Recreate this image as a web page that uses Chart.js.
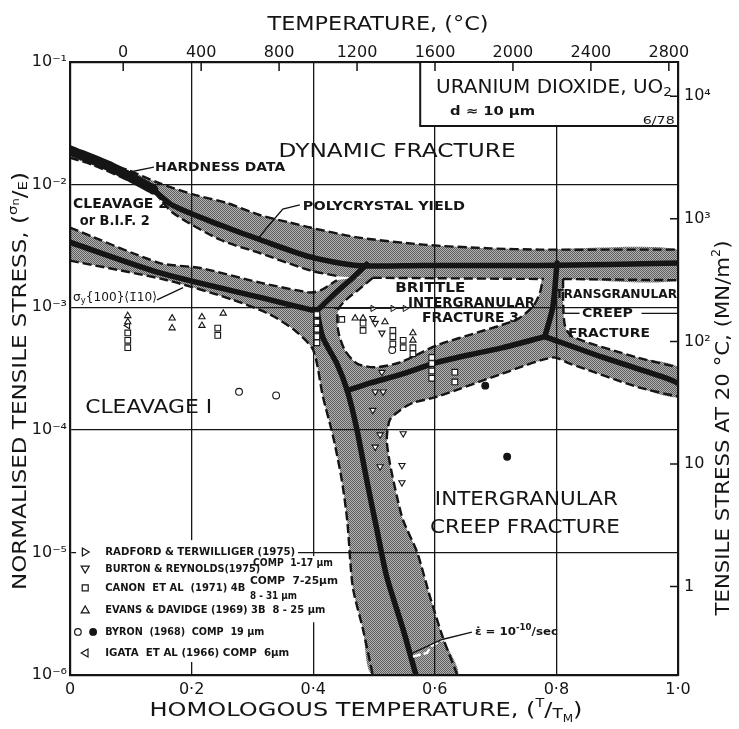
<!DOCTYPE html>
<html lang="en">
<head>
<meta charset="UTF-8">
<title>Uranium dioxide fracture map</title>
<style>
  html, body { margin: 0; padding: 0; background: #fff; }
</style>
</head>
<body>
<canvas id="map" width="739" height="729"></canvas>

<script src="https://cdn.jsdelivr.net/npm/chart.js@4.4.1/dist/chart.umd.min.js"></script>
<script>
// all points are [T/TM, log10(sigma_n/E)]
const topBandUpper = [[0,-1.69],[0.038,-1.78],[0.094,-1.88],[0.148,-1.99],[0.202,-2.08],[0.258,-2.15],[0.313,-2.25],[0.362,-2.31],[0.395,-2.35],[0.472,-2.43],[0.581,-2.49],[0.691,-2.52],[0.773,-2.53],[1.0,-2.53]];
const topBandLower = [[0,-1.78],[0.038,-1.84],[0.094,-1.96],[0.137,-2.06],[0.169,-2.23],[0.247,-2.45],[0.313,-2.56],[0.395,-2.70],[0.444,-2.75],[0.498,-2.76],[0.773,-2.77],[0.811,-2.77],[1.0,-2.78]];
const hardnessLine = [[0,-1.72],[0.069,-1.86],[0.137,-2.04]];
const yieldLine = [[0.137,-2.04],[0.169,-2.17],[0.247,-2.33],[0.313,-2.45],[0.395,-2.59],[0.472,-2.66],[0.581,-2.66],[0.773,-2.66],[1.0,-2.64]];

const cleavageUpper = [[0,-2.35],[0.148,-2.64],[0.214,-2.68],[0.313,-2.80],[0.395,-2.88],[0.413,-2.86],[0.439,-2.78]];
const cleavageLine = [[0,-2.47],[0.148,-2.72],[0.313,-2.92],[0.395,-3.02],[0.406,-3.03]];
const cleavage1Edge = [[0,-2.62],[0.160,-2.78],[0.268,-2.94],[0.329,-3.06],[0.370,-3.19],[0.400,-3.35],[0.416,-3.73],[0.433,-4.06],[0.447,-4.41],[0.456,-4.74],[0.465,-5.28],[0.482,-5.63],[0.498,-6.0]];
const connectorLine = [[0.406,-3.03],[0.4375,-2.88],[0.465,-2.76],[0.488,-2.65]];
const creepLine = [[0.406,-3.03],[0.416,-3.25],[0.439,-3.46],[0.456,-3.68],[0.472,-4.00],[0.488,-4.41],[0.505,-4.82],[0.521,-5.20],[0.548,-5.63],[0.569,-6.0]];

const brittleEdge = [[0.498,-2.76],[0.474,-2.86],[0.454,-2.94],[0.441,-3.02],[0.441,-3.19],[0.452,-3.35],[0.472,-3.46],[0.502,-3.49],[0.543,-3.45],[0.604,-3.31],[0.674,-3.20],[0.735,-3.10],[0.762,-2.99],[0.773,-2.88],[0.778,-2.76]];
const brittleLine = [[0.456,-3.68],[0.493,-3.62],[0.543,-3.55],[0.604,-3.45],[0.674,-3.37],[0.712,-3.33],[0.781,-3.24]];
const transLineUp = [[0.781,-3.24],[0.794,-3.00],[0.801,-2.64]];
const transLineRight = [[0.781,-3.24],[0.877,-3.41],[0.987,-3.59],[1.0,-3.62]];
const transEdge = [[0.811,-2.77],[0.811,-2.94],[0.814,-3.15],[0.826,-3.24],[0.933,-3.41],[1.0,-3.49]];
const igCreepEdge = [[0.637,-6.0],[0.613,-5.69],[0.592,-5.36],[0.571,-5.0],[0.548,-4.74],[0.538,-4.55],[0.526,-4.27],[0.521,-4.08],[0.526,-3.92],[0.543,-3.84],[0.564,-3.78],[0.604,-3.73],[0.712,-3.54],[0.794,-3.41],[0.822,-3.46],[0.933,-3.65],[1.0,-3.73]];
const strainRateContour = [[0.564,-5.85],[0.587,-5.82],[0.595,-5.76],[0.614,-5.71]];

// experimental points
const radfordPts = [[0.434,-3.01],[0.498,-3.01],[0.531,-3.01],[0.551,-3.01]];
const burtonPts = [[0.498,-3.09],[0.502,-3.13],[0.513,-3.21],[0.513,-3.53],[0.502,-3.69],[0.515,-3.69],[0.498,-3.84],[0.510,-4.04],[0.502,-4.14],[0.510,-4.30],[0.548,-4.03],[0.546,-4.29],[0.546,-4.43]];
const canonPts = [[0.095,-3.21],[0.095,-3.27],[0.095,-3.33],[0.243,-3.17],[0.243,-3.23],[0.406,-3.06],[0.406,-3.12],[0.406,-3.18],[0.406,-3.24],[0.406,-3.29],[0.447,-3.10],[0.482,-3.13],[0.482,-3.19],[0.531,-3.19],[0.531,-3.24],[0.531,-3.30],[0.548,-3.27],[0.548,-3.33],[0.564,-3.33],[0.564,-3.38],[0.595,-3.41],[0.595,-3.46],[0.595,-3.52],[0.595,-3.58],[0.633,-3.53],[0.633,-3.61]];
const evansPts = [[0.095,-3.07],[0.095,-3.12],[0.168,-3.09],[0.168,-3.17],[0.217,-3.08],[0.217,-3.15],[0.252,-3.05],[0.469,-3.09],[0.482,-3.09],[0.518,-3.12],[0.564,-3.21],[0.564,-3.27]];
const byronOpen = [[0.278,-3.69],[0.339,-3.72],[0.530,-3.35]];
const byronSolid = [[0.683,-3.64],[0.719,-4.22]];
const igataPts = [[0.095,-3.15]];

// axes
const homolTicks = [0, 0.2, 0.4, 0.6, 0.8, 1.0];
const stressTicks = [1e-6, 1e-5, 1e-4, 1e-3, 1e-2, 1e-1];
const tempTicks = [0, 400, 800, 1200, 1600, 2000, 2400, 2800];
const mnTicks = [1, 10, 100, 1000, 10000];
const meltK = 3120;      // UO2 melting point
const modulus = 1.9e5;   // E at 20 C, MN/m2

const ink = '#151515';
const FONT = '"DejaVu Sans", "Liberation Sans", sans-serif';
const SUP = {'0':'⁰','1':'¹','2':'²','3':'³','4':'⁴','5':'⁵','6':'⁶','7':'⁷','8':'⁸','9':'⁹','-':'⁻'};
const sup = s => String(s).split('').map(c => SUP[c] || c).join('');
const pts = arr => arr.map(([x, e]) => ({ x: x, y: Math.pow(10, e) }));

// stipple like the screen tone
const pc = document.createElement('canvas');
pc.width = 2; pc.height = 2;
const pg = pc.getContext('2d');
pg.fillStyle = '#b2b2b2'; pg.fillRect(0, 0, 2, 2);
pg.fillStyle = '#5e5e5e'; pg.fillRect(0, 0, 1, 1); pg.fillRect(1, 1, 1, 1);
const stipple = pg.createPattern(pc, 'repeat');

function band(arr) {
    return { type: 'line', data: pts(arr), fill: 'shape', backgroundColor: stipple, borderWidth: 0,
             pointRadius: 0, tension: 0.25, order: 10 };
}
function dashed(arr) {
    return { type: 'line', data: pts(arr), fill: false, borderColor: ink, borderWidth: 2.4,
             borderDash: [9, 4], pointRadius: 0, tension: 0.25, order: 5 };
}
function thick(arr, w) {
    return { type: 'line', data: pts(arr), fill: false, borderColor: ink, borderWidth: w,
             borderCapStyle: 'round', borderJoinStyle: 'round', pointRadius: 0, tension: 0.25, order: 3 };
}
function marks(arr, style, rot, r, bg) {
    return { type: 'scatter', data: pts(arr), pointStyle: style, rotation: rot, pointRadius: r,
             backgroundColor: bg || '#fff', borderColor: ink, borderWidth: 1.1, order: 1 };
}

const lowPoly = cleavageUpper.concat(brittleEdge, transEdge, igCreepEdge.slice().reverse(), cleavage1Edge.slice().reverse());
const topPoly = topBandUpper.concat(topBandLower.slice().reverse());

const datasets = [
    band(topPoly),
    band(lowPoly),
    dashed(topBandUpper),
    dashed(topBandLower.filter(p => p[0] <= 0.444)),
    dashed(topBandLower.filter(p => p[0] >= 0.498 && p[0] <= 0.78)),
    dashed(topBandLower.filter(p => p[0] >= 0.811)),
    dashed(cleavageUpper),
    dashed(cleavage1Edge),
    dashed(brittleEdge),
    dashed(transEdge),
    dashed(igCreepEdge),
    thick(hardnessLine, 10),
    thick(yieldLine, 5.5),
    thick(cleavageLine, 5.5),
    thick(connectorLine, 5.5),
    thick(creepLine, 5.5),
    thick(brittleLine, 5.5),
    thick(transLineUp, 5.5),
    thick(transLineRight, 5.5),
    { type: 'line', data: pts(strainRateContour), borderColor: '#fff', borderWidth: 2.5, borderDash: [8, 3],
      pointRadius: 0, fill: false, order: 2 },
    Object.assign(marks(radfordPts, 'triangle', 90, 3.6), {
        showLine: true, borderWidth: 1, pointRadius: c => c.dataIndex === 0 ? 0 : 3.6 }),
    marks(burtonPts, 'triangle', 180, 3.6),
    marks(canonPts, 'rect', 0, 4),
    marks(evansPts, 'triangle', 0, 3.6),
    marks(byronOpen, 'circle', 0, 3.4),
    marks(byronSolid, 'circle', 0, 3.4, ink),
    marks(igataPts, 'triangle', 270, 3.6)
];

// texts on the map: [parts], x (T/TM), log10 stress, target width, align
const notes = [
    [[['DYNAMIC FRACTURE', 20]], 0.538, -1.734, 237, 'center'],
    [[['HARDNESS DATA', 13, 0, 1]], 0.140, -1.865, 130],
    [[['CLEAVAGE 2', 14, 0, 1]], 0.005, -2.158, 95],
    [[['or B.I.F. 2', 14, 0, 1]], 0.016, -2.297, 70],
    [[['POLYCRYSTAL YIELD', 13, 0, 1]], 0.383, -2.183, 162],
    [[['σ', 13], ['y', 9, 3], ['{100}⟨1̄10⟩', 13]], 0.005, -2.925, 84],
    [[['BRITTLE', 14, 0, 1]], 0.535, -2.843, 70],
    [[['INTERGRANULAR', 14, 0, 1]], 0.556, -2.966, 127],
    [[['FRACTURE 3', 14, 0, 1]], 0.579, -3.095, 97],
    [[['TRANSGRANULAR', 13, 0, 1]], 0.798, -2.900, 122],
    [[['CREEP', 13, 0, 1]], 0.842, -3.05, 51],
    [[['FRACTURE', 13, 0, 1]], 0.819, -3.215, 82],
    [[['CLEAVAGE I', 19]], 0.025, -3.822, 127],
    [[['INTERGRANULAR', 19]], 0.600, -4.573, 183],
    [[['CREEP FRACTURE', 19]], 0.592, -4.801, 190],
    [[['ε̇ = 10', 11, 0, 1], ['-10', 8, -4, 1], ['/sec', 11, 0, 1]], 0.666, -5.649, 83],
    [[['URANIUM DIOXIDE, UO', 19], ['2', 13, 5]], 0.602, -1.212, 236],
    [[['d ≈ 10 μm', 12, 0, 1]], 0.625, -1.408, 85],
    [[['6/78', 10]], 0.942, -1.481, 32]
];
const leaders = [
    [[0.090,-1.905],[0.138,-1.857]],
    [[0.378,-2.165],[0.350,-2.20],[0.324,-2.35],[0.308,-2.45]],
    [[0.143,-2.94],[0.186,-2.84]],
    [[0.813,-3.05],[0.838,-3.05]],
    [[0.940,-3.05],[1.0,-3.05]],
    [[0.661,-5.65],[0.612,-5.71],[0.564,-5.82]]
];
const legendRows = [
    [['tri-right'], 'RADFORD & TERWILLIGER (1975)', -4.997, 190],
    [['tri-down'], 'BURTON & REYNOLDS(1975)', -5.135, 155],
    [['square'], 'CANON  ET AL  (1971) 4B', -5.290, 140],
    [['tri-up'], 'EVANS & DAVIDGE (1969) 3B  8 - 25 µm', -5.470, 220],
    [['circle', 'disc'], 'BYRON  (1968)  COMP  19 µm', -5.649, 159],
    [['tri-left'], 'IGATA  ET AL (1966) COMP  6µm', -5.820, 184]
];
const legendExtra = [
    ['COMP  1-17 µm', 0.301, -5.086, 80],
    ['COMP  7-25µm', 0.296, -5.233, 88],
    ['8 - 31 µm', 0.296, -5.356, 47]
];

function fontOf(p) { return (p[3] ? 'bold ' : '') + p[1] + 'px ' + FONT; }

function drawText(ctx, parts, x, y, width, align) {
    ctx.save();
    ctx.textBaseline = 'middle';
    ctx.textAlign = 'left';
    ctx.fillStyle = ink;
    let total = 0;
    const ws = parts.map(p => { ctx.font = fontOf(p); const w = ctx.measureText(p[0]).width; total += w; return w; });
    const k = width ? width / total : 1;
    const x0 = align === 'center' ? x - total * k / 2 : x;
    ctx.translate(x0, y);
    ctx.scale(k, 1);
    let cx = 0;
    parts.forEach((p, i) => { ctx.font = fontOf(p); ctx.fillText(p[0], cx, p[2] || 0); cx += ws[i]; });
    ctx.restore();
}

function legendMark(ctx, kind, x, y) {
    const r = 4;
    ctx.beginPath();
    if (kind === 'tri-up') { ctx.moveTo(x, y - r); ctx.lineTo(x + r, y + r * 0.7); ctx.lineTo(x - r, y + r * 0.7); }
    else if (kind === 'tri-down') { ctx.moveTo(x, y + r); ctx.lineTo(x + r, y - r * 0.7); ctx.lineTo(x - r, y - r * 0.7); }
    else if (kind === 'tri-right') { ctx.moveTo(x + r, y); ctx.lineTo(x - r * 0.7, y - r); ctx.lineTo(x - r * 0.7, y + r); }
    else if (kind === 'tri-left') { ctx.moveTo(x - r, y); ctx.lineTo(x + r * 0.7, y - r); ctx.lineTo(x + r * 0.7, y + r); }
    else if (kind === 'square') { ctx.rect(x - 3, y - 3, 6, 6); }
    else { ctx.arc(x, y, 3.3, 0, Math.PI * 2); }
    ctx.closePath();
    ctx.fillStyle = kind === 'disc' ? ink : '#fff';
    ctx.fill();
    ctx.lineWidth = 1.2;
    ctx.strokeStyle = ink;
    ctx.stroke();
}

const decor = {
    id: 'decor',
    beforeDraw(chart) {
        const ctx = chart.ctx;
        ctx.save();
        ctx.fillStyle = '#fff';
        ctx.fillRect(0, 0, chart.width, chart.height);
        ctx.restore();
    },
    afterDraw(chart) {
        const ctx = chart.ctx;
        const sx = chart.scales.x, sy = chart.scales.y;
        const px = v => sx.getPixelForValue(v);
        const py = e => sy.getPixelForValue(Math.pow(10, e));
        const a = chart.chartArea;
        ctx.save();

        // material box, top right
        ctx.fillStyle = '#fff';
        ctx.fillRect(px(0.576), a.top, a.right - px(0.576), py(-1.522) - a.top);
        ctx.strokeStyle = ink;
        ctx.lineWidth = 2;
        ctx.strokeRect(px(0.576), a.top, a.right - px(0.576), py(-1.522) - a.top);

        // legend ground
        ctx.fillStyle = '#fff';
        ctx.fillRect(px(0.01), py(-4.90), px(0.375) - px(0.01), py(-5.894) - py(-4.90));
        ctx.fillRect(px(0.375), py(-5.03), px(0.44) - px(0.375), py(-5.57) - py(-5.03));

        // inward ticks on top and right
        ctx.lineWidth = 1.5;
        ctx.strokeStyle = ink;
        ctx.beginPath();
        tempTicks.forEach(t => {
            const x = chart.scales.x2.getPixelForValue(t);
            ctx.moveTo(x, a.top); ctx.lineTo(x, a.top + 9);
        });
        mnTicks.forEach(t => {
            const y = chart.scales.y2.getPixelForValue(t);
            ctx.moveTo(a.right - 8, y); ctx.lineTo(a.right, y);
        });
        ctx.stroke();

        // leader lines
        ctx.lineWidth = 1.4;
        leaders.forEach(l => {
            ctx.beginPath();
            l.forEach((p, i) => i ? ctx.lineTo(px(p[0]), py(p[1])) : ctx.moveTo(px(p[0]), py(p[1])));
            ctx.stroke();
        });

        notes.forEach(n => drawText(ctx, n[0], px(n[1]), py(n[2]), n[3], n[4]));

        legendRows.forEach(r => {
            const y = py(r[2]);
            if (r[0].length === 2) {
                legendMark(ctx, r[0][0], px(0.013), y);
                legendMark(ctx, r[0][1], px(0.038), y);
            } else {
                legendMark(ctx, r[0][0], px(0.025), y);
            }
            drawText(ctx, [[r[1], 11, 0, 1]], px(0.058), y, r[3]);
        });
        legendExtra.forEach(r => drawText(ctx, [[r[0], 11, 0, 1]], px(r[1]), py(r[2]), r[3]));

        // axis titles
        drawText(ctx, [['TEMPERATURE, (°C)', 20]], 378, 25, 221, 'center');
        drawText(ctx, [['HOMOLOGOUS TEMPERATURE, (', 20], ['T', 12, -7], ['/', 20], ['T', 14, 3], ['M', 10, 8], [')', 20]], 366, 711, 433, 'center');
        ctx.save();
        ctx.translate(21, 381);
        ctx.rotate(-Math.PI / 2);
        drawText(ctx, [['NORMALISED TENSILE STRESS, (', 20], ['σ', 13, -7], ['n', 10, -5], ['/', 20], ['E', 13, 3], [')', 20]], 0, 0, 418, 'center');
        ctx.restore();
        ctx.save();
        ctx.translate(724, 428);
        ctx.rotate(-Math.PI / 2);
        drawText(ctx, [['TENSILE STRESS AT 20 °C, (MN/m', 20], ['2', 12, -7], [')', 20]], 0, 0, 375, 'center');
        ctx.restore();

        ctx.restore();
    }
};

const tickFont = { family: 'DejaVu Sans', size: 16 };
const gridOpts = { color: ink, lineWidth: 1.3, drawTicks: false, z: 1 };
const borderOpts = { color: ink, width: 2.2, z: 1 };

new Chart(document.getElementById('map'), {
    type: 'scatter',
    data: { datasets: datasets },
    plugins: [decor],
    options: {
        responsive: false,
        animation: false,
        events: [],
        layout: { padding: 0 },
        plugins: { legend: { display: false }, tooltip: { enabled: false } },
        scales: {
            x: {
                type: 'linear', position: 'bottom', min: 0, max: 1,
                afterBuildTicks: s => { s.ticks = homolTicks.map(v => ({ value: v })); },
                afterFit: s => { s.height = 54; },
                grid: gridOpts, border: borderOpts,
                ticks: { color: ink, font: tickFont, padding: 5, autoSkip: false, maxRotation: 0,
                         callback: v => v === 0 ? '0' : v.toFixed(1).replace('.', '·') }
            },
            y: {
                type: 'logarithmic', position: 'left', min: 1e-6, max: 1e-1,
                afterBuildTicks: s => { s.ticks = stressTicks.map(v => ({ value: v })); },
                afterFit: s => { s.width = 70; },
                grid: gridOpts, border: borderOpts,
                ticks: { color: ink, font: tickFont, padding: 3, autoSkip: false,
                         callback: v => '10' + sup(Math.round(Math.log10(v))) }
            },
            x2: {
                type: 'linear', position: 'top', min: -273, max: meltK - 273,
                afterBuildTicks: s => { s.ticks = tempTicks.map(v => ({ value: v })); },
                afterFit: s => { s.height = 62; },
                grid: { display: false, drawTicks: false }, border: borderOpts,
                ticks: { color: ink, font: tickFont, padding: 0, autoSkip: false, maxRotation: 0,
                         callback: v => String(v) }
            },
            y2: {
                type: 'logarithmic', position: 'right', min: 1e-6 * modulus, max: 1e-1 * modulus,
                afterBuildTicks: s => { s.ticks = mnTicks.map(v => ({ value: v })); },
                afterFit: s => { s.width = 61; },
                grid: { display: false, drawTicks: false }, border: borderOpts,
                ticks: { color: ink, font: tickFont, padding: 6, autoSkip: false,
                         callback: v => v < 100 ? String(v) : '10' + sup(Math.round(Math.log10(v))) }
            }
        }
    }
});
</script>
</body>
</html>
